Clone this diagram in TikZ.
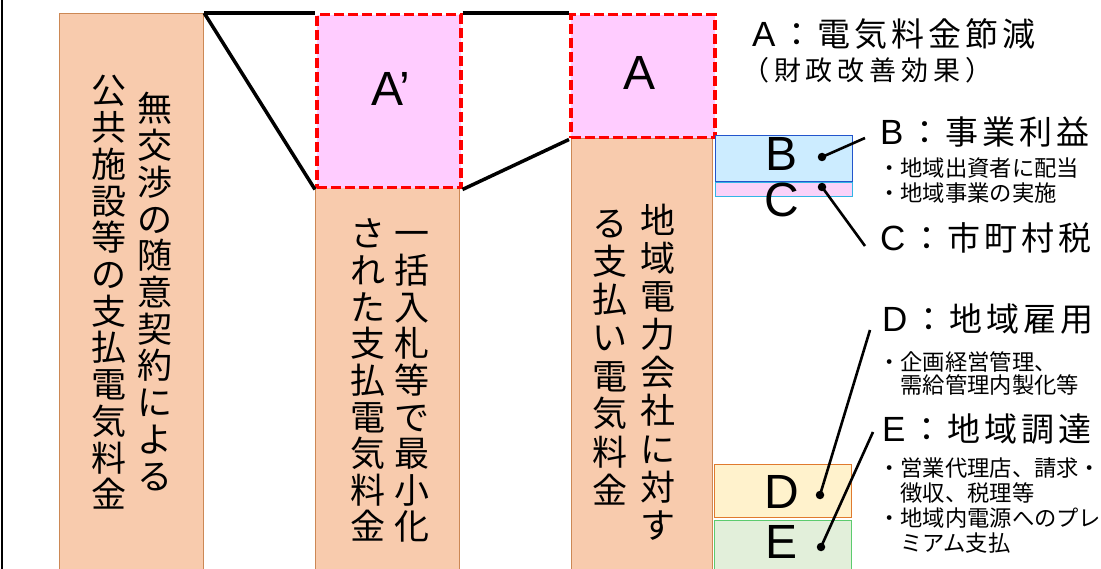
\documentclass[tikz,border=0pt]{standalone}
\usepackage{fontspec}
\setmainfont{Noto Sans CJK JP}
\newfontfamily\latinfont{Liberation Sans}
\newfontfamily\headfont[LetterSpace=12]{Noto Sans CJK JP}
\newfontfamily\subheadfont[LetterSpace=18]{Noto Sans CJK JP}
\usepackage{tikz}

\definecolor{barfill}{HTML}{F8CBAD}
\definecolor{bardraw}{HTML}{CC8855}
\definecolor{cutfill}{HTML}{FFCCFF}
\definecolor{bfill}{HTML}{CCECFF}
\definecolor{bdraw}{HTML}{2255CC}
\definecolor{cfill}{HTML}{F9D2F9}
\definecolor{cdraw}{HTML}{33B5E5}
\definecolor{dfill}{HTML}{FFF2CC}
\definecolor{ddraw}{HTML}{E07A2E}
\definecolor{efill}{HTML}{E2EFDA}
\definecolor{edraw}{HTML}{5CCB6E}

\newcommand\ltr[1]{{\latinfont\fontsize{35}{35}\selectfont #1}\hspace{5pt}}

\begin{document}
\begin{tikzpicture}[x=1pt,y=-1pt,
   bar/.style={rectangle,draw=bardraw,fill=barfill,line width=1.2pt,inner sep=0,anchor=north west,minimum width=#1},
   cut/.style={rectangle,draw=red,fill=cutfill,line width=3.5pt,dash pattern=on 10pt off 4pt,inner sep=0,anchor=north west,minimum width=144pt},
   part/.style n args={2}{rectangle,draw=#1,fill=#2,line width=1.2pt,inner sep=0,anchor=north west,minimum width=137pt},
   link/.style={line width=3.5pt},
   lead/.style={line width=2.6pt},
   pin/.style={circle,fill=black,inner sep=0,minimum size=8.5pt},
   tate/.style={anchor=base,inner sep=0,font=\fontsize{35}{35}\selectfont},
   big/.style={inner sep=0,font=\latinfont\fontsize{48}{48}\selectfont},
   head/.style={anchor=base west,inner sep=0,font=\headfont\fontsize{33}{33}\selectfont},
   note/.style={anchor=north west,inner sep=0,align=left,font=\fontsize{22.3}{#1}\selectfont}]
\useasboundingbox (0,0) rectangle (1101,569);
\clip (0,0) rectangle (1101,569);
\draw[line width=2pt] (2,0) -- (2,569);

% bars
\node[bar=144pt,minimum height=600pt] (bar1) at (59,13) {};
\node[bar=144pt,minimum height=400pt] (bar2) at (315,187) {};
\node[bar=141pt,minimum height=450pt] (bar3) at (571,138) {};
\node[cut,minimum height=173pt] (acut) at (315,13) {};
\node[cut,minimum height=123pt] (asave) at (569,13) {};
\draw[link] (bar1.north east) -- (acut.north west);
\draw[link] (bar1.north east) -- (acut.south west);
\draw[link] (acut.north east) -- (asave.north west);
\draw[link] (acut.south east) -- (asave.south west);
\node[big] (lap) at (391,89) {A’};
\node[big] (la) at (640,73) {A};

\node[part={bdraw}{bfill},minimum height=46pt] (pb) at (715,135) {};
\node[part={cdraw}{cfill},minimum height=14pt] (pc) at (715,182) {};
\node[part={ddraw}{dfill},minimum height=53pt] (pd) at (714,464) {};
\node[part={edraw}{efill},minimum height=80pt] (pe) at (714,520) {};
\node[big] (lb) at (782,154) {B};
\node[big] (lc) at (782,200) {C};
\node[big] (ld) at (782,492) {D};
\node[big] (le) at (782,542) {E};

% vertical texts
\foreach \ch [count=\k] in {無,交,渉,の,随,意,契,約,に,よ,る}
   \node[tate] (t1a-\k) at (155,{85.3+36.7*\k}) {\ch};
\foreach \ch [count=\k] in {公,共,施,設,等,の,支,払,電,気,料,金}
   \node[tate] (t1b-\k) at (109,{67.3+36.7*\k}) {\ch};
\foreach \ch [count=\k] in {一,括,入,札,等,で,最,小,化}
   \node[tate] (t2a-\k) at (412,{210.4+36.6*\k}) {\ch};
\foreach \ch [count=\k] in {さ,れ,た,支,払,電,気,料,金}
   \node[tate] (t2b-\k) at (368,{210.4+36.6*\k}) {\ch};
\foreach \ch [count=\k] in {地,域,電,力,会,社,に,対,す}
   \node[tate] (t3a-\k) at (658,{196+38*\k}) {\ch};
\foreach \ch [count=\k] in {る,支,払,い,電,気,料,金}
   \node[tate] (t3b-\k) at (610,{199+38*\k}) {\ch};

% right hand labels
\node[head] (ha) at (752,46.5) {\ltr{A}：電気料金節減};
\node[anchor=base west,inner sep=0,font=\subheadfont\fontsize{27}{27}\selectfont] (ha2) at (742,81) {（財政改善効果）};
\node[head] (hb) at (880,145) {\ltr{B}：事業利益};
\node[note=24.5pt] (nb) at (878,158) {・地域出資者に配当\\・地域事業の実施};
\node[head] (hc) at (880,251) {\ltr{C}：市町村税};
\node[head] (hd) at (882,331.5) {\ltr{D}：地域雇用};
\node[note=23pt] (nd) at (878,351) {・企画経営管理、\\\hspace*{1em}需給管理内製化等};
\node[head] (he) at (882,441.5) {\ltr{E}：地域調達};
\node[note=25pt] (ne) at (878,458) {・営業代理店、請求・\\\hspace*{1em}徴収、税理等\\・地域内電源へのプレ\\\hspace*{1em}ミアム支払};

\node[pin] (db) at (822,157) {};
\node[pin] (dc) at (822,187) {};
\node[pin] (dd) at (820,495) {};
\node[pin] (de) at (821,547) {};
\coordinate (eb) at (865,138);
\coordinate (ec) at (865,246);
\coordinate (ed) at (870,330);
\coordinate (ee) at (873,432);
\draw[lead] (db.center) -- (eb);
\draw[lead] (dc.center) -- (ec);
\draw[lead] (dd.center) -- (ed);
\draw[lead] (de.center) -- (ee);
\end{tikzpicture}
\end{document}
